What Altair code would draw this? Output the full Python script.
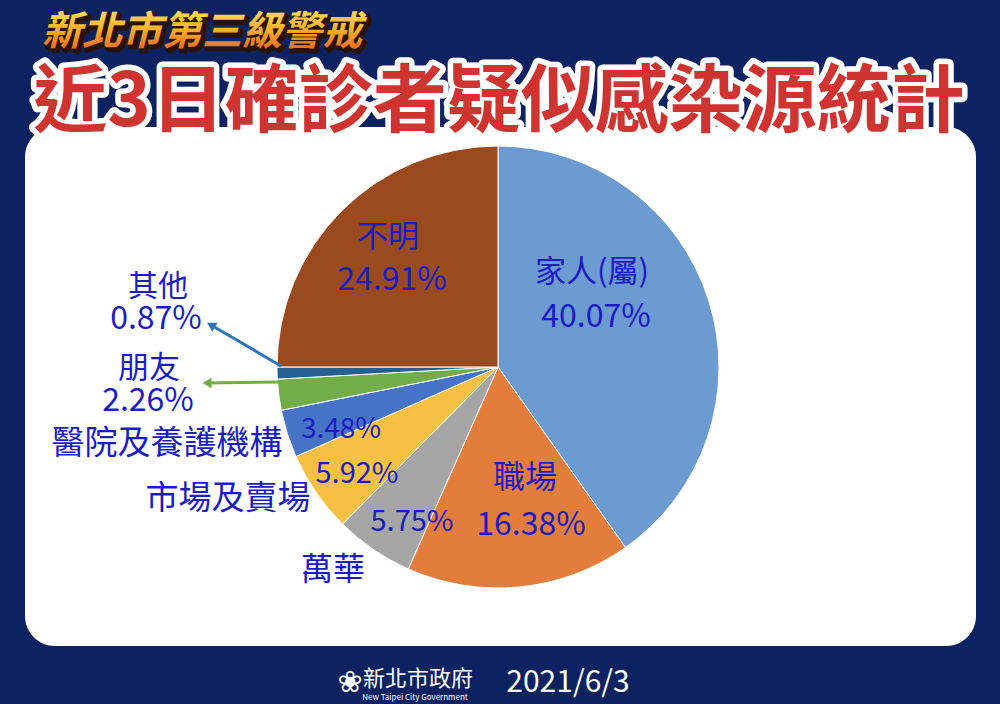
import altair as alt
import pandas as pd

# ---- data ----
categories = ["家人(屬)", "職場", "萬華", "市場及賣場", "醫院及養護機構", "朋友", "其他", "不明"]
percents = [40.07, 16.38, 5.75, 5.92, 3.48, 2.26, 0.87, 24.91]
colors = ["#6b9bd1", "#e27d3c", "#a5a5a5", "#f6c143", "#4673c6", "#71ae48", "#275f92", "#9a4a1f"]

# label texts and their pixel anchors (centre)
label_texts = ["家人(屬)", "40.07%", "職場", "16.38%", "不明", "24.91%", "3.48%", "5.92%", "5.75%",
               "萬華", "市場及賣場", "醫院及養護機構", "朋友", "2.26%", "其他", "0.87%"]
label_x = [592, 596, 525, 531, 388, 392, 341, 357, 412, 333, 228, 167, 149, 148, 158, 156]
label_y = [273, 317, 478, 525, 238, 280, 430, 474, 522, 570, 499, 444, 369, 401, 287, 319]
label_size = [31, 32, 32, 32, 31, 32, 28, 29, 29, 32, 33, 33, 31, 32, 30, 32]

title_text = "近3日確診者疑似感染源統計"
subtitle_text = "新北市第三級警戒"
date_text = "2021/6/3"
org_text = "新北市政府"
org_en = "New Taipei City Government"

W, H = 1000, 704
NAVY = "#0d2260"
LABEL = "#1a1cc6"
FONT = "Noto Sans CJK TC"

xs = alt.Scale(domain=[0, W], range=[0, W])
ys = alt.Scale(domain=[0, H], range=[0, H])

def X(f):
    return alt.X(f, type="quantitative", scale=xs, axis=None)

def Y(f):
    return alt.Y(f, type="quantitative", scale=ys, axis=None)

# white panel
panel_df = pd.DataFrame({"x": [25], "x2": [976], "y": [127], "y2": [646]})
panel = alt.Chart(panel_df).mark_rect(color="white", cornerRadius=30).encode(
    x=X("x"), x2="x2", y=Y("y"), y2="y2")

# pie
pie_df = pd.DataFrame({"cat": categories, "pct": percents, "ord": list(range(len(categories)))})
pie = alt.Chart(pie_df).mark_arc(outerRadius=221, stroke="white", strokeWidth=1).encode(
    theta=alt.Theta("pct:Q", stack=True),
    order=alt.Order("ord:Q"),
    color=alt.Color("cat:N", scale=alt.Scale(domain=categories, range=colors), legend=None),
    x=alt.value(498), y=alt.value(367))

# labels
lab_df = pd.DataFrame({"t": label_texts, "x": label_x, "y": label_y, "s": label_size})
labels = alt.Chart(lab_df).mark_text(font=FONT, color=LABEL, baseline="middle", align="center").encode(
    x=X("x"), y=Y("y"), text="t:N",
    size=alt.Size("s:Q", scale=None, legend=None))

# arrows
arrow_df = pd.DataFrame({
    "x": [281, 281], "y": [366, 382], "x2": [211, 207], "y2": [325, 383],
    "c": ["#2e75b6", "#70ad47"], "ang": [300, 269]})
arrow_lines = alt.Chart(arrow_df).mark_rule(strokeWidth=3).encode(
    x=X("x"), y=Y("y"), x2="x2", y2="y2", color=alt.Color("c:N", scale=None))
arrow_heads = alt.Chart(arrow_df).mark_point(shape="triangle-up", filled=True, size=110, opacity=1).encode(
    x=X("x2"), y=Y("y2"), color=alt.Color("c:N", scale=None), angle=alt.Angle("ang:Q", scale=None))

# title
title_df = pd.DataFrame({"t": [title_text], "x": [499], "y": [104]})
title_out = alt.Chart(title_df).mark_text(font=FONT, fontSize=74, fontWeight="bold", color="white",
                                          stroke="white", strokeWidth=11, strokeJoin="round",
                                          align="center", baseline="middle").encode(x=X("x"), y=Y("y"), text="t:N")
title_in = alt.Chart(title_df).mark_text(font=FONT, fontSize=74, fontWeight="bold", color="#cf3430",
                                         align="center", baseline="middle").encode(x=X("x"), y=Y("y"), text="t:N")

sub_df = pd.DataFrame({"t": [subtitle_text], "x": [42], "y": [33], "xs": [45], "ysh": [36]})
sub_shadow = alt.Chart(sub_df).mark_text(font=FONT, fontSize=40, fontWeight="bold", fontStyle="italic",
                                         color="#2a1200", stroke="#2a1200", strokeWidth=4, strokeJoin="round",
                                         align="left", baseline="middle").encode(x=X("xs"), y=Y("ysh"), text="t:N")
sub_main = alt.Chart(sub_df).mark_text(font=FONT, fontSize=40, fontWeight="bold", fontStyle="italic",
                                       color=alt.Gradient(gradient="linear",
                                                          stops=[alt.GradientStop(color="#fff27a", offset=0),
                                                                 alt.GradientStop(color="#f7b52c", offset=0.5),
                                                                 alt.GradientStop(color="#e8501e", offset=1)],
                                                          x1=0, x2=0, y1=0, y2=1),
                                       align="left", baseline="middle").encode(x=X("x"), y=Y("y"), text="t:N")

# footer
foot_df = pd.DataFrame({"t": [date_text, org_text, org_en], "x": [568, 418, 415], "y": [683, 679, 698],
                        "s": [30, 22, 8]})
footer = alt.Chart(foot_df).mark_text(color="white", font=FONT, baseline="middle", align="center").encode(
    x=X("x"), y=Y("y"), text="t:N", size=alt.Size("s:Q", scale=None, legend=None))
logo_df = pd.DataFrame({"x": [350], "y": [683]})
logo = alt.Chart(logo_df).mark_text(text="❀", color="white", fontSize=30, font="DejaVu Sans").encode(
    x=X("x"), y=Y("y"))

chart = alt.layer(panel, pie, labels, arrow_lines, arrow_heads, title_out, title_in,
                  sub_shadow, sub_main, footer, logo).properties(
    width=W, height=H, background=NAVY, padding=0, autosize=alt.AutoSizeParams(type="none")
).configure_view(stroke=None)

chart.save("out.html", embed_options={"renderer": "svg", "actions": False})
